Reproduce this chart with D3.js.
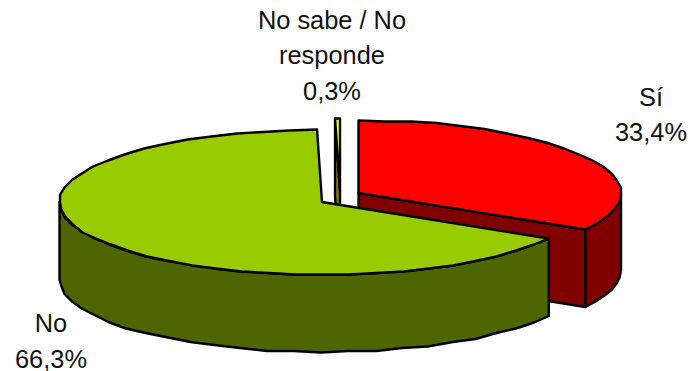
<!DOCTYPE html>
<html><head><meta charset="utf-8">
<script src="https://cdnjs.cloudflare.com/ajax/libs/d3/7.8.5/d3.min.js"></script>
<style>html,body{margin:0;padding:0;background:#fff}svg{display:block}text{font-family:"Liberation Sans",Arial,sans-serif;font-size:25.4px;fill:#111}</style>
</head><body><svg width="690" height="371"></svg>
<script>
const categories=["Sí","No","No sabe / No responde"];
const values=[33.4,66.3,0.3];
const topColors=["#ff0000","#99cc00","#ffff00"];
const sideColors=["#800000","#4d6600","#808000"];
const centers=[[358.5,193],[322,202],[340,191]];
const labelLines=[["Sí","33,4%"],["No","66,3%"],["No sabe / No","responde","0,3%"]];
const labelAnchors=[[651,105.5],[51,332],[332,28.5]];
const labelStep=35.5;
const rx=262.5, ry=72.5, depth=77.5, grid=1.5;

const svg=d3.select("svg");
const arcs=d3.pie().sort(null).value(i=>values[i])(d3.range(categories.length));
const line=d3.line();
function project(k,a,drop=0){
  const [cx,cy]=centers[k];
  const px=d3.scaleLinear().domain([-1,1]).range([cx-rx,cx+rx]);
  const py=d3.scaleLinear().domain([-1,1]).range([cy-ry+drop,cy+ry+drop]);
  return [px(Math.sin(a)),py(-Math.cos(a))];
}
function snap(p){return p.map(v=>Math.round(v/grid)*grid);}
function rim(k,a0,a1,drop=0){
  const n=Math.max(1,Math.ceil((a1-a0)/(Math.PI/30)));
  return d3.range(n+1).map(i=>{
    const p=project(k,a0+(a1-a0)*i/n,drop);
    return (i===0||i===n)?p:snap(p);
  });
}
function poly(pts,fill){
  svg.append("path").attr("d",line(pts)+"Z").attr("fill",fill)
    .attr("stroke","#000").attr("stroke-width",2.4).attr("stroke-linejoin","round");
}
[2,0,1].forEach(k=>{
  const d=arcs[k], a0=d.startAngle, a1=d.endAngle, c=centers[k];
  const cut=p=>[c,p,[p[0],p[1]+depth],[c[0],c[1]+depth]];
  if(a1<=Math.PI) poly(cut(project(k,a1)),sideColors[k]);
  if(k===2) poly(cut(project(k,a0)),sideColors[k]);
  const w0=Math.max(a0,Math.PI/2), w1=Math.min(a1,Math.PI*1.5);
  if(w1>w0) poly(rim(k,w0,w1).concat(rim(k,w0,w1,depth).reverse()),sideColors[k]);
  poly([c].concat(rim(k,a0,a1)),topColors[k]);
});
labelLines.forEach((lines,k)=>{
  const [x,y]=labelAnchors[k];
  lines.forEach((t,i)=>{
    svg.append("text").attr("x",x).attr("y",y+i*labelStep).attr("text-anchor","middle").text(t);
  });
});
</script></body></html>
